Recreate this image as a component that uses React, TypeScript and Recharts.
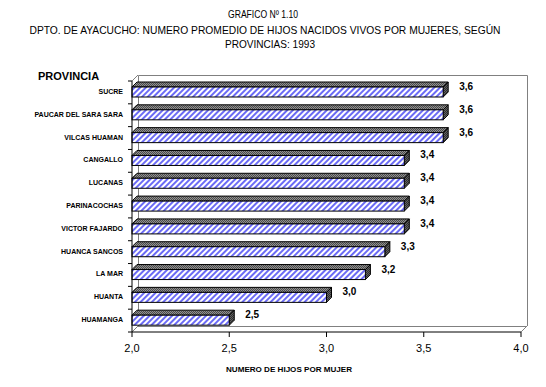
import React from "react"
import { BarChart, Bar, XAxis, YAxis, LabelList } from "recharts"

const provincias = [
  "SUCRE",
  "PAUCAR DEL SARA SARA",
  "VILCAS HUAMAN",
  "CANGALLO",
  "LUCANAS",
  "PARINACOCHAS",
  "VICTOR FAJARDO",
  "HUANCA SANCOS",
  "LA MAR",
  "HUANTA",
  "HUAMANGA",
]
const promedioHijos = [3.6, 3.6, 3.6, 3.4, 3.4, 3.4, 3.4, 3.3, 3.2, 3.0, 2.5]
const xTicks = [2, 2.5, 3, 3.5, 4]

const data = provincias.map((name, i) => ({ name, value: promedioHijos[i] }))

const W = 546
const H = 387
const plotLeft = 132
const plotRight = 521
const plotTop = 81
const plotBottom = 332
const depth = 6
const band = (plotBottom - plotTop) / provincias.length
const font = "Arial, 'Liberation Sans'"

const fmt = (v: number) => v.toFixed(1).replace(".", ",")

function CatTick(props: any) {
  const { y, payload, index } = props
  return (
    <g>
      <text x={123} y={y - 1} textAnchor="end" dominantBaseline="central" fontSize={7} fontWeight="bold" fontFamily={font} fill="#000">
        {payload.value}
      </text>
      <line x1={plotLeft - 4} x2={plotLeft} y1={y - band / 2} y2={y - band / 2} stroke="#000" />
      {index === provincias.length - 1 && <line x1={plotLeft - 4} x2={plotLeft} y1={y + band / 2} y2={y + band / 2} stroke="#000" />}
    </g>
  )
}

function Bar3D(props: any) {
  const { x, y, width, height } = props
  const d = 5
  const top = `${x},${y} ${x + d},${y - d} ${x + width + d},${y - d} ${x + width},${y}`
  const side = `${x + width},${y} ${x + width + d},${y - d} ${x + width + d},${y + height - d} ${x + width},${y + height}`
  return (
    <g>
      <polygon points={top} fill="url(#topCheck)" stroke="#000" strokeWidth={1} />
      <polygon points={side} fill="url(#sideCheck)" stroke="#000" strokeWidth={1} />
      <rect x={x} y={y} width={width} height={height} fill="url(#blueHatch)" stroke="#000" strokeWidth={1} />
    </g>
  )
}

function ValueLabel(props: any) {
  const { x, y, width, value } = props
  return (
    <text x={x + width + 16} y={y - 0.5} dominantBaseline="central" fontSize={10} fontWeight="bold" fontFamily={font} fill="#000">
      {fmt(value)}
    </text>
  )
}

function Backdrop() {
  const bl = plotLeft + depth
  const br = plotRight + depth
  const bt = plotTop - depth
  const bb = plotBottom - depth
  return (
    <svg width={W} height={H} style={{ position: "absolute", left: 0, top: 0 }}>
      <defs>
        <pattern id="blueHatch" patternUnits="userSpaceOnUse" width={4} height={4} patternTransform="rotate(45)">
          <rect width={4} height={4} fill="#ffffff" />
          <rect width={2} height={4} fill="#6b6bf5" />
        </pattern>
        <pattern id="topCheck" patternUnits="userSpaceOnUse" width={2} height={2}>
          <rect width={2} height={2} fill="#909090" />
          <rect width={1} height={1} fill="#4a4a4a" />
          <rect x={1} y={1} width={1} height={1} fill="#4a4a4a" />
        </pattern>
        <pattern id="sideCheck" patternUnits="userSpaceOnUse" width={2} height={2}>
          <rect width={2} height={2} fill="#606060" />
          <rect width={1} height={1} fill="#2e2e2e" />
          <rect x={1} y={1} width={1} height={1} fill="#2e2e2e" />
        </pattern>
      </defs>
      <rect width={W} height={H} fill="#fff" />
      <g fontFamily={font} fontSize={11} fill="#000" textAnchor="middle">
        <text x={263} y={18} textLength={70} lengthAdjust="spacingAndGlyphs">GRAFICO Nº 1.10</text>
        <text x={265} y={34} textLength={471} lengthAdjust="spacingAndGlyphs">DPTO. DE AYACUCHO: NUMERO PROMEDIO DE HIJOS NACIDOS VIVOS POR MUJERES, SEGÚN</text>
        <text x={270} y={48} textLength={90} lengthAdjust="spacingAndGlyphs">PROVINCIAS: 1993</text>
      </g>
      <text x={38} y={80} fontFamily={font} fontSize={11} fontWeight="bold">PROVINCIA</text>
      <text x={289} y={372} textAnchor="middle" fontFamily={font} fontSize={8} fontWeight="bold" textLength={126} lengthAdjust="spacingAndGlyphs">NUMERO DE HIJOS POR MUJER</text>
      <g stroke="#808080" fill="none" strokeWidth={1}>
        <polyline points={`${bl + 0.5},${bb} ${bl + 0.5},${bt + 0.5} ${br + 0.5},${bt + 0.5} ${br + 0.5},${bb}`} />
        <line x1={bl} y1={bb + 0.5} x2={br} y2={bb + 0.5} />
        <line x1={plotLeft} y1={plotTop} x2={bl} y2={bt} />
        <line x1={plotLeft} y1={plotBottom} x2={bl} y2={bb} />
        <line x1={plotRight} y1={plotBottom} x2={br} y2={bb} />
      </g>
    </svg>
  )
}

export default function App() {
  return (
    <div style={{ position: "absolute", left: 0, top: 0, width: W, height: H, background: "#fff" }}>
      <Backdrop />
      <div style={{ position: "absolute", left: 0, top: 0 }}>
        <BarChart
          width={W}
          height={H}
          data={data}
          layout="vertical"
          margin={{ top: plotTop, right: W - plotRight, left: plotLeft - 120, bottom: H - plotBottom - 30 }}
        >
          <XAxis
            type="number"
            domain={[2, 4]}
            ticks={xTicks}
            tickFormatter={fmt}
            height={30}
            tickSize={5}
            tickMargin={7}
            axisLine={{ stroke: "#000" }}
            tickLine={{ stroke: "#000" }}
            tick={{ fontSize: 11, fill: "#000", fontFamily: font }}
            interval={0}
          />
          <YAxis
            type="category"
            dataKey="name"
            width={120}
            axisLine={{ stroke: "#000" }}
            tickLine={false}
            tick={<CatTick />}
            interval={0}
          />
          <Bar dataKey="value" barSize={10} shape={<Bar3D />} isAnimationActive={false}>
            <LabelList dataKey="value" content={<ValueLabel />} />
          </Bar>
        </BarChart>
      </div>
    </div>
  )
}
